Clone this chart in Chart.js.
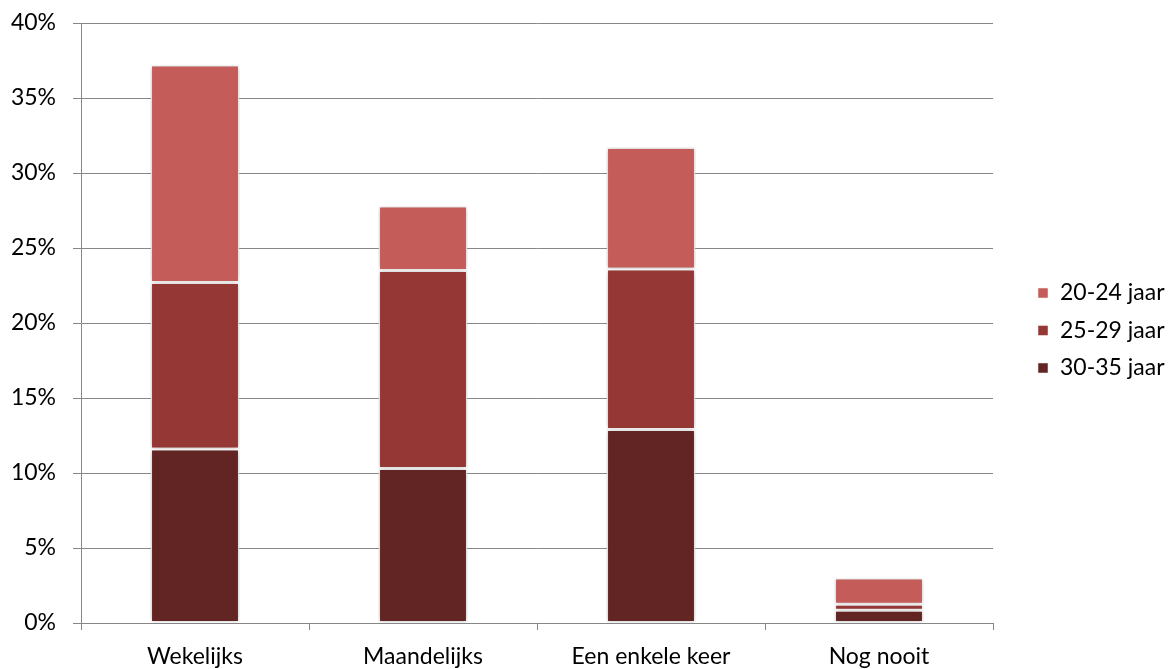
<!DOCTYPE html>
<html>
<head>
<meta charset="utf-8">
<script src="https://cdn.jsdelivr.net/npm/chart.js@4"></script>
<style>
  html, body { margin: 0; padding: 0; background: #fff; }
  #wrap { width: 1170px; height: 669px; }
</style>
</head>
<body>
<div id="wrap"><canvas id="myChart" width="1170" height="669"></canvas></div>
<script>
const categories = ['Wekelijks', 'Maandelijks', 'Een enkele keer', 'Nog nooit'];
const age3035 = [11.6, 10.3, 12.9, 0.85];
const age2529 = [11.1, 13.2, 10.7, 0.4];
const age2024 = [14.5, 4.3, 8.1, 1.75];
const yTicks = [0, 5, 10, 15, 20, 25, 30, 35, 40];

const fontFam = 'Lato, "Open Sans", sans-serif';
const gridGray = '#878787';

// soft shadow round the bars, like the original
const barShadow = {
  id: 'barShadow',
  beforeDatasetsDraw(chart) {
    const c = chart.ctx;
    c.save();
    c.shadowColor = 'rgba(0,0,0,0.28)';
    c.shadowBlur = 5;
    c.shadowOffsetX = 0;
    c.shadowOffsetY = 0;
  },
  afterDatasetsDraw(chart) {
    chart.ctx.restore();
  }
};

const ctx = document.getElementById('myChart').getContext('2d');
const myChart = new Chart(ctx, {
  type: 'bar',
  data: {
    labels: categories,
    datasets: [
      { label: '30-35 jaar', data: age3035, backgroundColor: '#632523' },
      { label: '25-29 jaar', data: age2529, backgroundColor: '#953735' },
      { label: '20-24 jaar', data: age2024, backgroundColor: '#C45C59' }
    ].map(d => Object.assign(d, {
      borderColor: 'rgba(255,255,255,0.95)',
      borderWidth: 1.5,
      borderSkipped: false,
      categoryPercentage: 1,
      barPercentage: 0.39
    }))
  },
  plugins: [barShadow],
  options: {
    responsive: false,
    animation: false,
    layout: { autoPadding: false, padding: { top: 23, left: 0, right: 0, bottom: 0 } },
    plugins: {
      tooltip: { enabled: false },
      legend: {
        position: 'right',
        fullSize: false,
        reverse: true,
        maxWidth: 147,
        title: { display: true, text: ' ', font: { size: 9 }, padding: 2 },
        labels: {
          boxWidth: 11,
          boxHeight: 11,
          padding: 14.5,
          color: '#000',
          font: { family: fontFam, size: 23 }
        }
      }
    },
    scales: {
      x: {
        stacked: true,
        offset: true,
        grid: {
          display: true,
          drawOnChartArea: false,
          drawTicks: true,
          tickLength: 7,
          color: gridGray,
          offset: true
        },
        border: { color: gridGray, width: 1 },
        ticks: {
          color: '#000',
          padding: 13,
          font: { family: fontFam, size: 23 }
        },
        afterFit(scale) { scale.height = 46; }
      },
      y: {
        stacked: true,
        min: 0,
        max: 40,
        afterBuildTicks(scale) { scale.ticks = yTicks.map(v => ({ value: v })); },
        grid: { color: gridGray, lineWidth: 1, tickLength: 8 },
        border: { color: gridGray, width: 1 },
        ticks: {
          color: '#000',
          padding: 17,
          font: { family: fontFam, size: 23 },
          callback: v => v + '%'
        },
        afterFit(scale) {
          scale.width = 81;
          scale.paddingTop = 0;
          scale.paddingBottom = 0;
        }
      },
      // empty spacer between plot and legend
      gap: {
        position: 'right',
        display: true,
        grid: { display: false },
        border: { display: false },
        ticks: { display: false },
        afterFit(scale) { scale.width = 30; }
      }
    }
  }
});
</script>
</body>
</html>
